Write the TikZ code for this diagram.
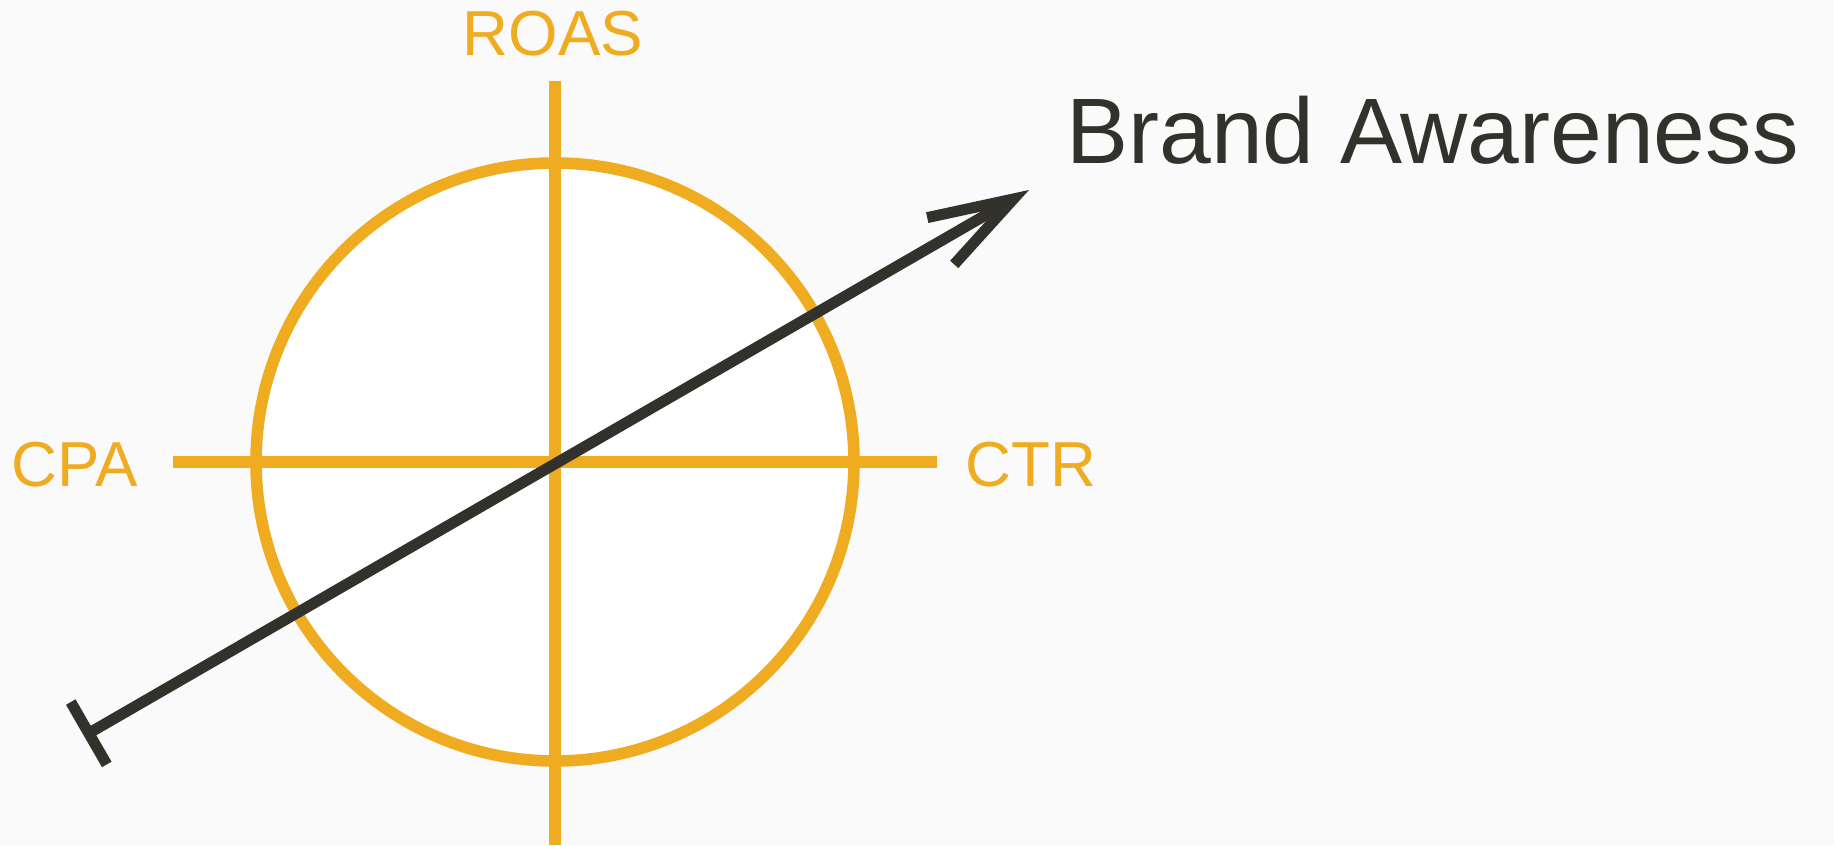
\documentclass[tikz,border=0pt]{standalone}
\usepackage{fontspec}
\setmainfont{Liberation Sans}
\usepackage{xcolor}
\usetikzlibrary{arrows.meta, positioning}

\definecolor{kpiorange}{HTML}{EFAC21}
\definecolor{arrowgray}{HTML}{32312C}
\definecolor{paper}{HTML}{FAFAFA}

\begin{document}
\begin{tikzpicture}[x=0.5pt, y=-0.5pt,
    axis/.style={draw=kpiorange, line width=6.2pt},
    kpi/.style={text=kpiorange, anchor=base, inner sep=0pt, font=\fontsize{31.8}{36}\selectfont}]
                    \fill[paper] (0, 0) rectangle (1834, 845);
                    \useasboundingbox (0, 0) rectangle (1834, 845);

                    \coordinate (o) at (555, 462);
                    \filldraw[fill=white, draw=kpiorange, line width=5.8pt] (o) circle[radius=149.5pt];

                    \coordinate (roastop) at (555, 81);
                    \coordinate (roasbot) at (555, 845);
                    \coordinate (cpaend) at (173, 462);
                    \coordinate (ctrend) at (937, 462);

                    \draw[axis]
                    (roastop) -- (roasbot)
                    (cpaend) -- (ctrend);

                    \node[kpi] (roas) at (553, 56) {ROAS};
                    \node[kpi] (cpa) at (75, 486) {CPA};
                    \node[kpi] (ctr) at (1031, 486) {CTR};
                    \node[text=arrowgray, anchor=base west, inner sep=0pt, font=\fontsize{46.5}{52}\selectfont] (brand) at (1066, 164) {Brand Awareness};

                    % brand awareness arrow
                    \coordinate (start) at (84, 736);
                    \coordinate (tip) at (1029, 190);
                    \draw[arrowgray, line width=5.5pt, {Bar[width=36pt]}-{Straight Barb[length=42pt, width=27pt]}] (start) -- (tip);
                \end{tikzpicture}
\end{document}
